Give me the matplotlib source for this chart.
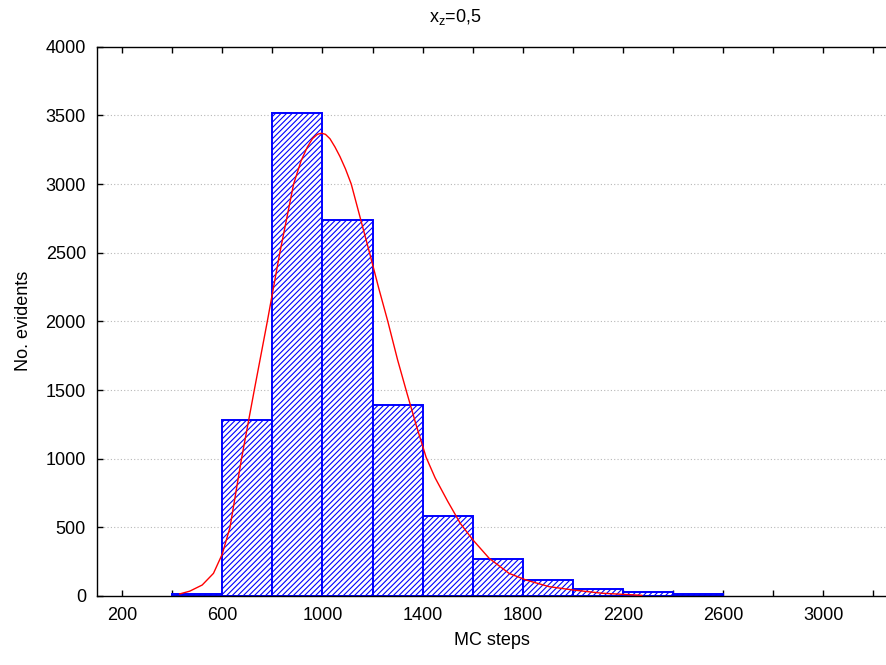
import matplotlib
matplotlib.use("Agg")
import matplotlib.pyplot as plt
from matplotlib.ticker import MultipleLocator, FixedLocator

# ---- data ----
bin_edges = [400, 600, 800, 1000, 1200, 1400, 1600, 1800, 2000, 2200, 2400, 2600]
counts = [15, 1282, 3517, 2740, 1392, 585, 270, 117, 49, 27, 15]

curve_x = [430, 470, 520, 565, 600, 631, 677, 728, 780, 830, 885, 915, 940, 960, 980,
           996, 1012, 1030, 1050, 1070, 1092, 1115, 1150, 1188, 1225, 1261, 1300,
           1337, 1375, 1414, 1450, 1500, 1550, 1600, 1666, 1745, 1812, 1905, 2000,
           2117, 2275]
curve_y = [15, 35, 80, 165, 305, 500, 1000, 1500, 2000, 2500, 3000, 3170, 3270, 3330,
           3362, 3370, 3362, 3330, 3270, 3200, 3110, 3000, 2760, 2500, 2240, 2000,
           1720, 1480, 1240, 1010, 860, 690, 530, 410, 274, 165, 117, 68, 44, 20, 5]

x_major = [200, 600, 1000, 1400, 1800, 2200, 2600, 3000]
y_ticks = [0, 500, 1000, 1500, 2000, 2500, 3000, 3500, 4000]

plt.rcParams['font.family'] = ['Liberation Sans', 'DejaVu Sans']
plt.rcParams['mathtext.fontset'] = 'custom'
plt.rcParams['mathtext.rm'] = 'Liberation Sans'
plt.rcParams['mathtext.it'] = 'Liberation Sans'
plt.rcParams['hatch.color'] = '#2020ff'
plt.rcParams['hatch.linewidth'] = 0.8

fig = plt.figure(figsize=(8.86, 6.65), dpi=100)
ax = fig.add_axes([97/886, 69/665, 1 - 97/886, (596 - 46.7)/665])

widths = [bin_edges[i + 1] - bin_edges[i] for i in range(len(counts))]
ax.bar(bin_edges[:-1], counts, width=widths, align='edge', facecolor='white',
       edgecolor='blue', hatch='//////', linewidth=1.4, zorder=2)

ax.plot(curve_x, curve_y, color='red', linewidth=1.0, zorder=3)

ax.set_xlim(100, 3250)
ax.set_ylim(0, 4000)
ax.xaxis.set_major_locator(FixedLocator(x_major))
ax.xaxis.set_minor_locator(MultipleLocator(200))
ax.yaxis.set_major_locator(FixedLocator(y_ticks))

for y in y_ticks[1:-1]:
    ax.axhline(y, color='#b8b8b8', linestyle=(0, (1, 2)), linewidth=0.8, zorder=1)

ax.tick_params(axis='both', which='both', direction='in', length=4, width=1.0,
               top=True, right=False, labelsize=13, colors='black')
ax.tick_params(axis='x', pad=8)
ax.tick_params(axis='y', pad=8)

ax.spines['right'].set_visible(False)
for s in ['left', 'top', 'bottom']:
    ax.spines[s].set_linewidth(1.0)
    ax.spines[s].set_color('black')

ax.set_xlabel('MC steps', fontsize=13, labelpad=6)
ax.set_ylabel('No. evidents', fontsize=13, labelpad=10)
fig.text(455/886, 1 - 17/665, r'$\mathregular{x_z}$=0,5', ha='center', va='center', fontsize=13)

fig.savefig('out.png', dpi=100)
